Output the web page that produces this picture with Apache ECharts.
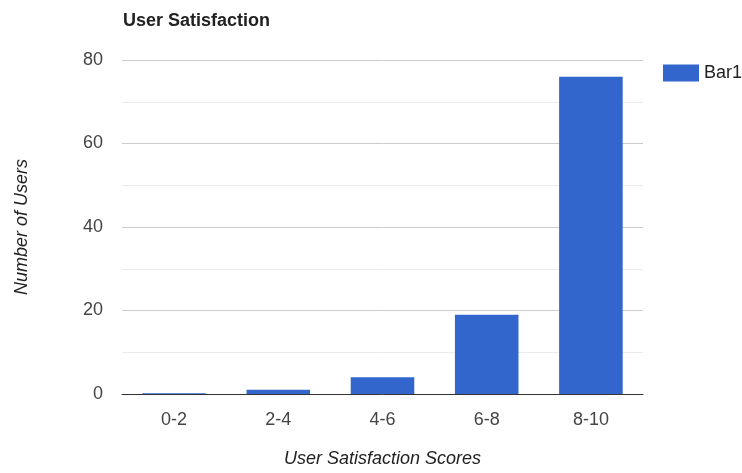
<!DOCTYPE html>
<html><head><meta charset="utf-8">
<script src="https://cdn.jsdelivr.net/npm/echarts@6/dist/echarts.min.js"></script>
<style>html,body{margin:0;padding:0;background:#fff}#c{width:742px;height:473px}</style>
</head><body><div id="c"></div>
<script>
const categories = ['0-2', '2-4', '4-6', '6-8', '8-10'];
const bar1 = [0.2, 1, 4, 19, 76];
const yTicks = [0, 20, 40, 60, 80];

const chart = echarts.init(document.getElementById('c'));
const font = 'Liberation Sans, Arial, sans-serif';
chart.setOption({
  animation: false,
  title: {text: 'User Satisfaction', left: 118, top: 7,
    textStyle: {fontFamily: font, fontSize: 18, fontWeight: 'bold', color: '#222'}},
  legend: {left: 658, top: 59, orient: 'vertical', itemWidth: 36, itemHeight: 17, itemGap: 6,
    textStyle: {fontFamily: font, fontSize: 18, color: '#222'},
    data: [{name: 'Bar1', icon: 'rect'}]},
  grid: {left: 122, right: 99, top: 60, bottom: 76},
  xAxis: {type: 'category', data: categories,
    name: 'User Satisfaction Scores', nameLocation: 'middle', nameGap: 56,
    nameTextStyle: {fontFamily: font, fontSize: 18, fontStyle: 'italic', color: '#222'},
    axisLine: {lineStyle: {color: '#333', width: 1}}, axisTick: {show: false},
    axisLabel: {fontFamily: font, fontSize: 18, color: '#444', margin: 17}},
  yAxis: {type: 'value', min: yTicks[0], max: yTicks[yTicks.length-1], interval: 20,
    name: 'Number of Users', nameLocation: 'middle', nameGap: 91,
    nameTextStyle: {fontFamily: font, fontSize: 18, fontStyle: 'italic', color: '#222'},
    axisLine: {show: false}, axisTick: {show: false},
    axisLabel: {fontFamily: font, fontSize: 18, color: '#444', margin: 19},
    splitLine: {lineStyle: {color: '#cccccc'}},
    minorTick: {show: false, splitNumber: 2},
    minorSplitLine: {show: true, lineStyle: {color: '#ebebeb'}}},
  series: [{name: 'Bar1', type: 'bar', data: bar1, barWidth: '61%',
    itemStyle: {color: '#3366cc'}}]
});
</script></body></html>
